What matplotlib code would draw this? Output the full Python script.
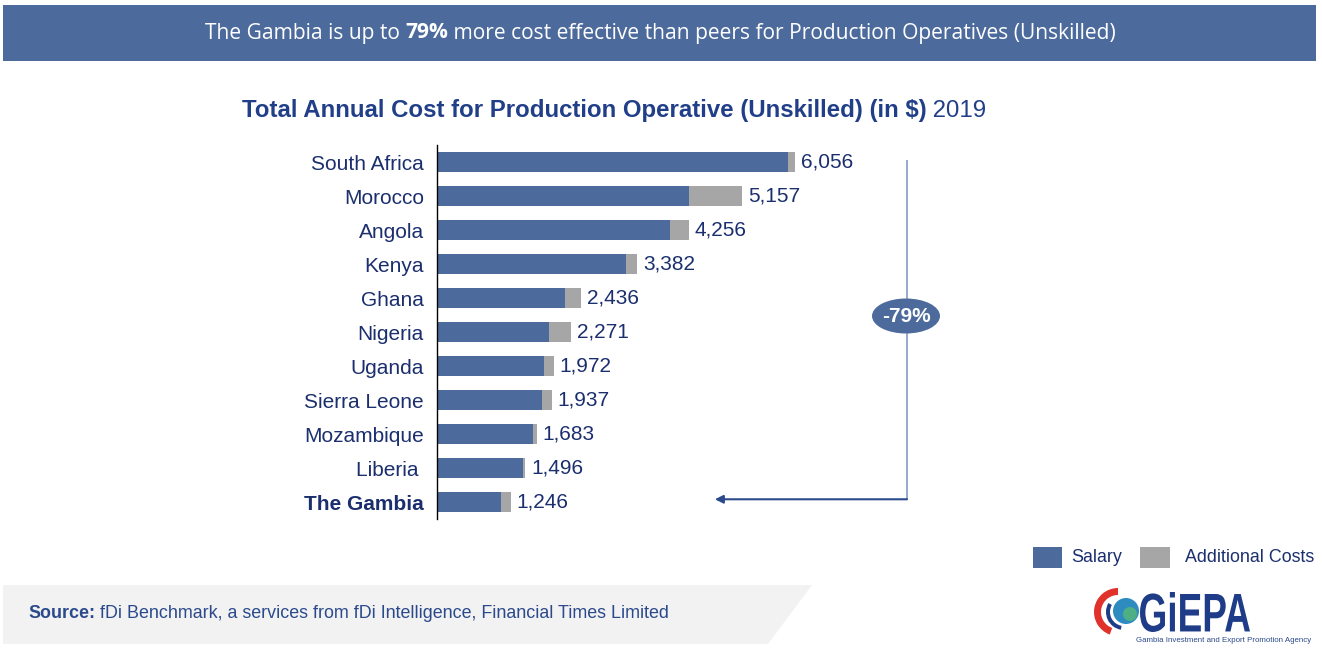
import matplotlib
matplotlib.use("Agg")
import matplotlib.pyplot as plt
import numpy as np
from matplotlib.patches import Rectangle, Polygon, Ellipse, PathPatch, Circle, Wedge
from matplotlib.textpath import TextPath
from matplotlib.font_manager import FontProperties
from matplotlib.transforms import Affine2D

# ---------------- data ----------------
categories = ["South Africa", "Morocco", "Angola", "Kenya", "Ghana", "Nigeria",
              "Uganda", "Sierra Leone", "Mozambique", "Liberia ", "The Gambia"]
totals = [6056, 5157, 4256, 3382, 2436, 2271, 1972, 1937, 1683, 1496, 1246]
additional = [117, 893, 314, 184, 270, 376, 162, 160, 59, 41, 163]
salary = [t - a for t, a in zip(totals, additional)]
value_labels = ["6,056", "5,157", "4,256", "3,382", "2,436", "2,271",
                "1,972", "1,937", "1,683", "1,496", "1,246"]
series_names = ["Salary", "Additional Costs"]

W, H = 1322, 656
BLUE = "#4C6B9C"
GRAY = "#A6A6A6"
NAVY = "#1B2F6E"
TITLE = "#213F88"
FONT = "Liberation Sans"

fig = plt.figure(figsize=(W / 100, H / 100), dpi=100)
fig.patch.set_facecolor("white")

def px(x, y):
    """pixel (from top-left) -> figure fraction"""
    return x / W, 1 - y / H

pix = Affine2D().scale(1 / W, 1 / H) + fig.transFigure  # pixel from bottom-left

# ---------------- header ----------------
fig.patches.append(Rectangle(px(3, 61), (1316 - 3) / W, 56 / H, transform=fig.transFigure,
                             facecolor=BLUE, edgecolor="none"))

renderer = fig.canvas.get_renderer()

def rich(xc, y, parts, **kw):
    texts = [fig.text(0, y, s, weight=w, va="center", ha="left", **kw) for s, w in parts]
    widths = [t.get_window_extent(renderer).width for t in texts]
    x = xc * W - sum(widths) / 2
    for t, wd in zip(texts, widths):
        t.set_x(x / W)
        x += wd
    return texts

rich(660 / W, 1 - 33 / H,
     [("The Gambia is up to ", "normal"), ("79%", "bold"),
      (" more cost effective than peers for Production Operatives (Unskilled)", "normal")],
     color="white", fontsize=15.1, family="Open Sans")

rich(614 / W, 1 - 111 / H,
     [("Total Annual Cost for Production Operative (Unskilled) (in $)", "bold"),
      (" 2019", "normal")],
     color=TITLE, fontsize=17.3, family=FONT)

# ---------------- chart ----------------
x_left, x_right = 437, 910
y_top, y_bot = 145, 519
ax = fig.add_axes([x_left / W, 1 - y_bot / H, (x_right - x_left) / W, (y_bot - y_top) / H])
y = np.arange(len(categories))
ax.barh(y, salary, height=0.56, color=BLUE, label=series_names[0])
ax.barh(y, additional, left=salary, height=0.56, color=GRAY, label=series_names[1])
ax.set_xlim(0, 8000)
ax.set_ylim(len(categories) - 0.5, -0.5)
for s in ["top", "right", "bottom"]:
    ax.spines[s].set_visible(False)
ax.spines["left"].set_color("black")
ax.spines["left"].set_linewidth(1.0)
ax.set_xticks([])
ax.set_yticks(y, categories)
ax.tick_params(axis="y", length=0, pad=9.5)
for lbl in ax.get_yticklabels():
    lbl.set_fontfamily(FONT)
    lbl.set_fontsize(15)
    lbl.set_color(NAVY)
ax.get_yticklabels()[-1].set_fontweight("bold")

for yi, t, lab in zip(y, totals, value_labels):
    ax.annotate(lab, (t, yi), xytext=(4.3, 0), textcoords="offset points",
                va="center", ha="left", fontsize=15, color=NAVY, family=FONT)

# bracket and arrow
bx = 7950
ax.plot([bx, bx], [0 - 0.05, len(categories) - 1 - 0.08], color="#8FA3C8", lw=1.3,
        clip_on=False, solid_capstyle="butt")
ax.annotate("", xy=(4700, len(categories) - 1 - 0.08), xytext=(bx, len(categories) - 1 - 0.08),
            arrowprops=dict(arrowstyle="-|>", color="#2B4A8C", lw=1.5,
                            mutation_scale=12, shrinkA=0, shrinkB=0),
            annotation_clip=False)
fig.patches.append(Ellipse(px(906, 316), 68 / W, 35 / H, transform=fig.transFigure,
                           facecolor=BLUE, edgecolor="none", zorder=5))
fig.text(*px(906, 317), "-79%", color="white", fontsize=15, weight="bold",
         ha="center", va="center", family=FONT, zorder=6)

# ---------------- legend ----------------
fig.patches.append(Rectangle(px(1033, 568), 29 / W, 21 / H, transform=fig.transFigure,
                             facecolor=BLUE, edgecolor="none"))
fig.text(*px(1071, 557), series_names[0], color=NAVY, fontsize=12.9, family=FONT,
         ha="left", va="center")
fig.patches.append(Rectangle(px(1140, 568), 30 / W, 21 / H, transform=fig.transFigure,
                             facecolor=GRAY, edgecolor="none"))
fig.text(*px(1185, 557), series_names[1], color=NAVY, fontsize=12.9, family=FONT,
         ha="left", va="center")

# ---------------- source box ----------------
fig.patches.append(Polygon([px(3, 585), px(812, 585), px(768, 644), px(3, 644)],
                           closed=True, transform=fig.transFigure,
                           facecolor="#F2F2F2", edgecolor="none"))
t1 = fig.text(*px(28, 614), "Source:", weight="bold", color="#2B4A8C", fontsize=12.9,
              family=FONT, va="center", ha="left")
w1 = t1.get_window_extent(renderer).width
fig.text(*px(28 + w1, 614), " fDi Benchmark, a services from fDi Intelligence, Financial Times Limited",
         color="#2B4A8C", fontsize=12.9, family=FONT, va="center", ha="left")

# ---------------- logo ----------------
fp = FontProperties(family=FONT, weight="bold")
tp = TextPath((0, 0), "GiEPA", size=1, prop=fp)
ext = tp.get_extents()
bx0, bx1, by0, by1 = 1140, 1250, 632, 592  # pixel box (y from top)
sx = (bx1 - bx0) / ext.width
sy = (by0 - by1) / ext.height
tr = Affine2D().translate(-ext.x0, -ext.y0).scale(sx, sy).translate(bx0, H - by0) + pix
fig.patches.append(PathPatch(tp, transform=tr, facecolor="#1F3C88", edgecolor="none"))
fig.text(*px(1224, 641), "Gambia Investment and Export Promotion Agency", color="#2B4A8C",
         fontsize=5.7, family=FONT, ha="center", va="center")
fig.patches.append(Wedge((1118, H - 612), 24, 90, 250, width=7, transform=pix,
                         facecolor="#E0312B", edgecolor="none"))
fig.patches.append(Circle((1126, H - 611), 13, transform=pix, facecolor="#2E8BC0",
                          edgecolor="none"))
fig.patches.append(Circle((1130, H - 614), 7, transform=pix, facecolor="#5BBF6A",
                          edgecolor="none", alpha=0.7))
fig.patches.append(Wedge((1124, H - 612), 18, 150, 260, width=4, transform=pix,
                         facecolor="#1F3C88", edgecolor="none"))

fig.savefig("out.png", dpi=100, facecolor="white")
